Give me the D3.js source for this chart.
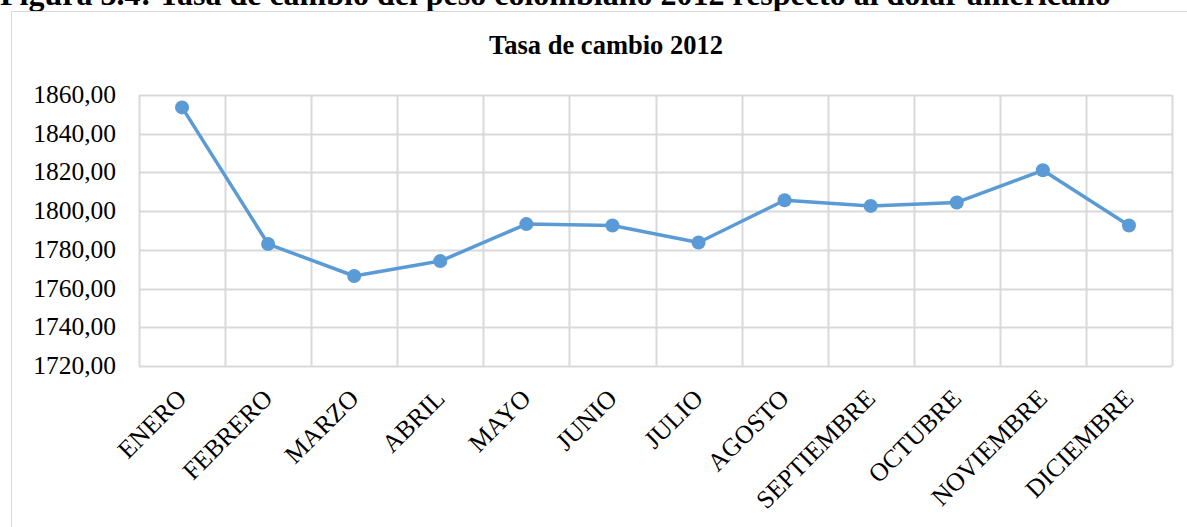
<!DOCTYPE html>
<html>
<head>
<meta charset="utf-8">
<script src="https://cdn.jsdelivr.net/npm/d3@7"></script>
<style>
  body { margin: 0; background: #fff; }
  svg { display: block; font-family: "Liberation Serif", "Times New Roman", serif; }
</style>
</head>
<body>
<svg id="chart" width="1187" height="527"></svg>
<script>
// months and monthly exchange rate (COP per USD)
var months = ['ENERO', 'FEBRERO', 'MARZO', 'ABRIL', 'MAYO', 'JUNIO', 'JULIO',
  'AGOSTO', 'SEPTIEMBRE', 'OCTUBRE', 'NOVIEMBRE', 'DICIEMBRE'];
var rates = [1853.6, 1783.0, 1766.5, 1774.2, 1793.3, 1792.6, 1783.8,
  1805.6, 1802.7, 1804.5, 1821.1, 1792.6];
var yTicks = [1720, 1740, 1760, 1780, 1800, 1820, 1840, 1860];
var figureTitle = 'Figura 3.4: Tasa de cambio del peso colombiano 2012 respecto al dólar americano';
var chartTitle = 'Tasa de cambio 2012';

var svg = d3.select('#chart');
var margin = { top: 95, right: 15, bottom: 161, left: 139 };
var width = 1187 - margin.left - margin.right;
var height = 527 - margin.top - margin.bottom;

// figure caption, cut off at the top like in the source
svg.append('text')
  .attr('x', 0)
  .attr('y', 5)
  .style('font-size', '32px')
  .style('font-weight', 'bold')
  .text(figureTitle);

// chart area border
svg.append('rect')
  .attr('x', 11.5)
  .attr('y', 11.5)
  .attr('width', 1200)
  .attr('height', 540)
  .style('fill', 'none')
  .style('stroke', '#d9d9d9');

svg.append('text')
  .attr('x', 606)
  .attr('y', 54)
  .attr('text-anchor', 'middle')
  .style('font-size', '26.5px')
  .style('font-weight', 'bold')
  .text(chartTitle);

var g = svg.append('g')
  .attr('transform', 'translate(' + margin.left + ',' + margin.top + ')');

var x = d3.scaleBand().domain(months).range([0, width]);
var y = d3.scaleLinear().domain([1720, 1860]).range([height, 0]);

// horizontal gridlines
g.selectAll('.hgrid')
  .data(yTicks)
  .enter()
  .append('line')
  .attr('class', 'hgrid')
  .attr('x1', 0)
  .attr('x2', width)
  .attr('y1', function(d) { return Math.round(y(d)) + 0.5; })
  .attr('y2', function(d) { return Math.round(y(d)) + 0.5; })
  .style('stroke', '#d9d9d9')
  .style('stroke-width', 2);

// vertical gridlines between categories
var bounds = months.map(function(m) { return x(m); }).concat([width]);
g.selectAll('.vgrid')
  .data(bounds)
  .enter()
  .append('line')
  .attr('class', 'vgrid')
  .attr('x1', function(d) { return Math.round(d) + 0.5; })
  .attr('x2', function(d) { return Math.round(d) + 0.5; })
  .attr('y1', 0)
  .attr('y2', height)
  .style('stroke', '#d9d9d9')
  .style('stroke-width', 2);

// y axis labels
g.selectAll('.ylab')
  .data(yTicks)
  .enter()
  .append('text')
  .attr('class', 'ylab')
  .attr('x', -23)
  .attr('y', function(d) { return y(d) + 8; })
  .attr('text-anchor', 'end')
  .style('font-size', '25.5px')
  .text(function(d) { return d3.format('.2f')(d).replace('.', ','); });

// x axis labels, rotated
g.selectAll('.xlab')
  .data(months)
  .enter()
  .append('text')
  .attr('class', 'xlab')
  .attr('text-anchor', 'end')
  .attr('transform', function(d) {
    var cx = x(d) + x.bandwidth() / 2 + 6;
    return 'translate(' + cx + ',' + (height + 34) + ') rotate(-45)';
  })
  .style('font-size', '25.5px')
  .text(function(d) { return d; });

var cxOf = function(d, i) { return x(months[i]) + x.bandwidth() / 2; };

var line = d3.line()
  .x(cxOf)
  .y(function(d) { return y(d); });

g.append('path')
  .datum(rates)
  .attr('d', line)
  .style('fill', 'none')
  .style('stroke', '#5b9bd5')
  .style('stroke-width', 3.5)
  .style('stroke-linejoin', 'round');

g.selectAll('.dot')
  .data(rates)
  .enter()
  .append('circle')
  .attr('class', 'dot')
  .attr('cx', cxOf)
  .attr('cy', function(d) { return y(d); })
  .attr('r', 7)
  .style('fill', '#5b9bd5');
</script>
</body>
</html>
